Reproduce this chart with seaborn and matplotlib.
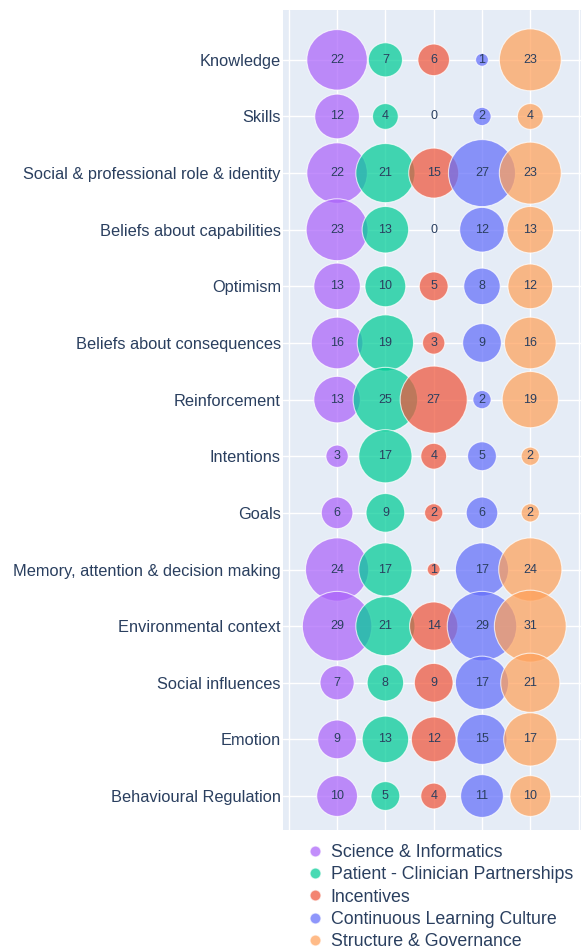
import matplotlib
matplotlib.use('Agg')
import pandas as pd
import numpy as np
import matplotlib.pyplot as plt
import seaborn as sns
from matplotlib.lines import Line2D

behaviours = [
    "Knowledge", "Skills", "Social & professional role & identity",
    "Beliefs about capabilities", "Optimism", "Beliefs about consequences",
    "Reinforcement", "Intentions", "Goals",
    "Memory, attention & decision making", "Environmental context",
    "Social influences", "Emotion", "Behavioural Regulation",
]
groups = [
    "Science & Informatics", "Patient - Clinician Partnerships", "Incentives",
    "Continuous Learning Culture", "Structure & Governance",
]
science = [22, 12, 22, 23, 13, 16, 13, 3, 6, 24, 29, 7, 9, 10]
patient = [7, 4, 21, 13, 10, 19, 25, 17, 9, 17, 21, 8, 13, 5]
incentives = [6, 0, 15, 0, 5, 3, 27, 4, 2, 1, 14, 9, 12, 4]
learning = [1, 2, 27, 12, 8, 9, 2, 5, 6, 17, 29, 17, 15, 11]
structure = [23, 4, 23, 13, 12, 16, 19, 2, 2, 24, 31, 21, 17, 10]

colors = ["#AB63FA", "#00CC96", "#EF553B", "#636EFA", "#FFA15A"]
text_col = "#2a3f5f"

rows = []
for gi, (g, vals) in enumerate(zip(groups, [science, patient, incentives, learning, structure])):
    for b, v in zip(behaviours, vals):
        rows.append({"group": g, "xpos": gi + 1, "behaviour": b, "count": v})
df = pd.DataFrame(rows)

sns.set_style("darkgrid", {"axes.facecolor": "#E5ECF6", "grid.color": "white"})
plt.rcParams['font.family'] = ['Liberation Sans', 'DejaVu Sans']

fig = plt.figure(figsize=(5.81, 9.49), dpi=100)
ax = fig.add_axes([283 / 581, 119 / 949, 298 / 581, 820 / 949])

sns.scatterplot(data=df, x="xpos", y="behaviour", hue="group", palette=colors,
                size="count", sizes=(0, 86.3 * 31), size_norm=(0, 31),
                alpha=0.72, edgecolor="white", linewidth=0.8, legend=False, ax=ax)

for _, r in df.iterrows():
    ax.text(r["xpos"], r["behaviour"], str(r["count"]), ha="center", va="center",
            fontsize=9, color=text_col)

ax.set_xlim(-0.12, 6.05)
ax.set_ylim(len(behaviours) - 1 + 0.6, -0.88)
ax.set_xticks(range(0, 7))
ax.set_xticklabels([])
ax.set_xlabel("")
ax.set_ylabel("")
ax.tick_params(axis="y", labelsize=11.75, colors=text_col, length=0, pad=1.5)
ax.tick_params(axis="x", length=0)
ax.grid(True, color="white", linewidth=1)
for s in ax.spines.values():
    s.set_visible(False)

handles = [Line2D([0], [0], marker="o", linestyle="", markersize=8,
                  markerfacecolor=c, markeredgecolor="white", alpha=0.72) for c in colors]
fig.legend(handles, groups, loc="upper left", bbox_to_anchor=(297 / 581, 1 - 835 / 949),
           frameon=False, fontsize=12.8, labelcolor=text_col, handletextpad=0.4,
           labelspacing=0.3, borderpad=0, handlelength=1.0)

plt.savefig("out.png", dpi=100)
